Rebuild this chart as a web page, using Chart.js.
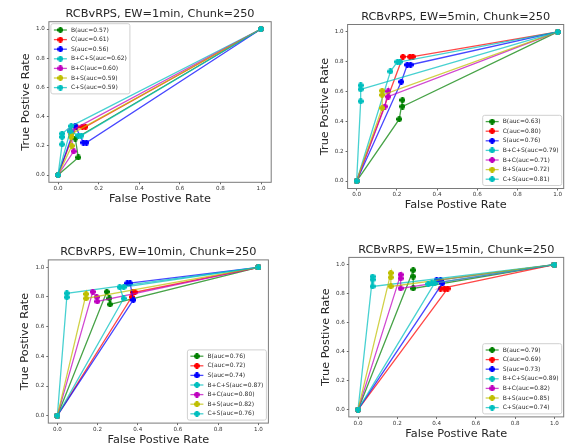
<!DOCTYPE html>
<html>
<head>
<meta charset="utf-8">
<script src="https://cdn.jsdelivr.net/npm/chart.js@4.4.0/dist/chart.umd.min.js"></script>
<style>
html, body { margin: 0; padding: 0; background: #fff; }
body { width: 569px; height: 447px; position: relative; overflow: hidden; }
canvas { position: absolute; }
</style>
</head>
<body>
<canvas id="c1" width="285" height="224" style="left:0;top:0"></canvas>
<canvas id="c2" width="284" height="224" style="left:285px;top:0"></canvas>
<canvas id="c3" width="285" height="223" style="left:0;top:224px"></canvas>
<canvas id="c4" width="284" height="223" style="left:285px;top:224px"></canvas>
<script>
// series names + colours (matplotlib g, r, b, c, m, y, c)
const seriesNames = ['B', 'C', 'S', 'B+C+S', 'B+C', 'B+S', 'C+S'];
const seriesColors = ['#008000', '#ff0000', '#0000ff', '#00bfbf', '#bf00bf', '#bfbf00', '#00bfbf'];
const tickValues = [0.0, 0.2, 0.4, 0.6, 0.8, 1.0];

// EW=1min
const auc1 = [0.57, 0.61, 0.56, 0.62, 0.60, 0.59, 0.59];
const fpr1 = [
  [0, 0.10, 0.085, 1],
  [0, 0.09, 0.12, 0.135, 1],
  [0, 0.085, 0.125, 0.14, 1],
  [0, 0.02, 0.02, 0.02, 0.065, 1],
  [0, 0.077, 0.06, 1],
  [0, 0.068, 0.064, 0.064, 1],
  [0, 0.06, 0.10, 0.115, 1]
];
const tpr1 = [
  [0, 0.12, 0.25, 1],
  [0, 0.33, 0.33, 0.33, 1],
  [0, 0.335, 0.222, 0.222, 1],
  [0, 0.21, 0.26, 0.283, 0.335, 1],
  [0, 0.162, 0.30, 1],
  [0, 0.20, 0.26, 0.28, 1],
  [0, 0.30, 0.27, 0.27, 1]
];

// EW=5min
const auc2 = [0.63, 0.80, 0.76, 0.79, 0.71, 0.72, 0.81];
const fpr2 = [
  [0, 0.212, 0.228, 0.228, 1],
  [0, 0.23, 0.265, 0.28, 1],
  [0, 0.222, 0.252, 0.268, 1],
  [0, 0.168, 0.203, 0.215, 1],
  [0, 0.14, 0.157, 0.157, 1],
  [0, 0.127, 0.127, 0.127, 1],
  [0, 0.02, 0.02, 0.02, 1]
];
const tpr2 = [
  [0, 0.415, 0.543, 0.50, 1],
  [0, 0.834, 0.834, 0.834, 1],
  [0, 0.666, 0.78, 0.78, 1],
  [0, 0.735, 0.80, 0.80, 1],
  [0, 0.50, 0.602, 0.566, 1],
  [0, 0.49, 0.606, 0.577, 1],
  [0, 0.535, 0.642, 0.615, 1]
];

// EW=10min
const auc3 = [0.76, 0.72, 0.74, 0.87, 0.80, 0.82, 0.76];
const fpr3 = [
  [0, 0.246, 0.259, 0.262, 1],
  [0, 0.37, 0.375, 0.386, 1],
  [0, 0.378, 0.362, 0.348, 1],
  [0, 0.047, 0.047, 1],
  [0, 0.176, 0.196, 0.199, 1],
  [0, 0.143, 0.143, 1],
  [0, 0.33, 0.31, 0.33, 1]
];
const tpr3 = [
  [0, 0.835, 0.79, 0.75, 1],
  [0, 0.80, 0.832, 0.832, 1],
  [0, 0.78, 0.892, 0.892, 1],
  [0, 0.798, 0.825, 1],
  [0, 0.835, 0.80, 0.77, 1],
  [0, 0.82, 0.79, 1],
  [0, 0.79, 0.866, 0.866, 1]
];

// EW=15min
const auc4 = [0.79, 0.69, 0.73, 0.89, 0.82, 0.85, 0.74];
const fpr4 = [
  [0, 0.281, 0.281, 0.281, 1],
  [0, 0.456, 0.44, 0.42, 1],
  [0, 0.43, 0.42, 0.40, 1],
  [0, 0.074, 0.074, 0.074, 1],
  [0, 0.217, 0.217, 0.217, 1],
  [0, 0.167, 0.167, 0.167, 1],
  [0, 0.39, 0.375, 0.357, 1]
];
const tpr4 = [
  [0, 0.962, 0.918, 0.836, 1],
  [0, 0.835, 0.835, 0.835, 1],
  [0, 0.872, 0.892, 0.892, 1],
  [0, 0.918, 0.897, 0.85, 1],
  [0, 0.931, 0.905, 0.836, 1],
  [0, 0.943, 0.912, 0.85, 1],
  [0, 0.872, 0.872, 0.866, 1]
];

const panels = [
  { id: 'c1', title: 'RCBvRPS, EW=1min, Chunk=250', fpr: fpr1, tpr: tpr1, auc: auc1, legend: 'ul',
    area: { left: 48.9, top: 21.7, right: 271.2, bottom: 182.3 }, xlim: [-0.045, 1.05] },
  { id: 'c2', title: 'RCBvRPS, EW=5min, Chunk=250', fpr: fpr2, tpr: tpr2, auc: auc2, legend: 'lr',
    area: { left: 62.6, top: 24.5, right: 280, bottom: 188.5 }, xlim: [-0.045, 1.03] },
  { id: 'c3', title: 'RCBvRPS, EW=10min, Chunk=250', fpr: fpr3, tpr: tpr3, auc: auc3, legend: 'lr',
    area: { left: 48.3, top: 35.9, right: 268.4, bottom: 199.1 }, xlim: [-0.045, 1.05] },
  { id: 'c4', title: 'RCBvRPS, EW=15min, Chunk=250', fpr: fpr4, tpr: tpr4, auc: auc4, legend: 'lr',
    area: { left: 63.8, top: 33.4, right: 279.6, bottom: 192.9 }, xlim: [-0.047, 1.047] }
];

const Y_AXIS_W = 20;
const X_AXIS_H = 12;

function rgba(hex, a) {
  const n = parseInt(hex.slice(1), 16);
  return `rgba(${(n >> 16) & 255}, ${(n >> 8) & 255}, ${n & 255}, ${a})`;
}

// filled plus marker, like matplotlib 'P'
function plusMarker(color) {
  const c = document.createElement('canvas');
  c.width = 6; c.height = 6;
  const g = c.getContext('2d');
  g.fillStyle = color;
  g.fillRect(0, 1.6, 6, 2.8);
  g.fillRect(1.6, 0, 2.8, 6);
  g.beginPath();
  g.arc(3, 3, 2.3, 0, Math.PI * 2);
  g.fill();
  return c;
}
const markers = seriesColors.map(plusMarker);

// frame, titles and the in-axes legend
const decorPlugin = {
  id: 'decor',
  afterDatasetsDraw(chart, args, opts) {
    const ctx = chart.ctx;
    const a = chart.chartArea;
    ctx.save();
    ctx.strokeStyle = '#7a7a7a';
    ctx.lineWidth = 1;
    ctx.strokeRect(a.left, a.top, a.right - a.left, a.bottom - a.top);

    // legend
    const fs = 6, rowH = 9.6;
    ctx.font = fs + 'px "DejaVu Sans"';
    const items = chart.data.datasets;
    const tw = Math.max(...items.map(d => ctx.measureText(d.label).width));
    const w = 20 + tw + 3;
    const h = rowH * items.length + 3;
    let x, y;
    if (opts.legend === 'ul') { x = a.left + 2; y = a.top + 2; }
    else { x = a.right - 2 - w; y = a.bottom - 3 - h; }
    ctx.fillStyle = 'rgba(255,255,255,0.8)';
    ctx.strokeStyle = '#d0d0d0';
    ctx.beginPath();
    ctx.roundRect(x, y, w, h, 2);
    ctx.fill();
    ctx.stroke();
    ctx.textAlign = 'left';
    ctx.textBaseline = 'middle';
    items.forEach((d, i) => {
      const cy = y + 1.5 + rowH * (i + 0.5);
      ctx.strokeStyle = d.borderColor;
      ctx.lineWidth = 1.3;
      ctx.beginPath();
      ctx.moveTo(x + 3, cy);
      ctx.lineTo(x + 16, cy);
      ctx.stroke();
      ctx.drawImage(d.pointStyle, x + 9.5 - 3, cy - 3);
      ctx.fillStyle = '#2a2a2a';
      ctx.fillText(d.label, x + 20, cy);
    });

    // titles
    ctx.fillStyle = '#262626';
    ctx.font = '11.3px "DejaVu Sans"';
    ctx.textAlign = 'center';
    ctx.textBaseline = 'middle';
    const mx = (a.left + a.right) / 2;
    ctx.fillText(opts.title, mx, a.top - 7.6);
    ctx.fillText('False Postive Rate', mx, a.bottom + 17);
    ctx.translate(a.left - 23, (a.top + a.bottom) / 2);
    ctx.rotate(-Math.PI / 2);
    ctx.fillText('True Postive Rate', 0, 0);
    ctx.restore();
  }
};

function axis(min, max, isX) {
  return {
    type: 'linear',
    min: min,
    max: max,
    afterBuildTicks: s => { s.ticks = tickValues.map(v => ({ value: v })); },
    afterFit: s => { if (isX) s.height = X_AXIS_H; else s.width = Y_AXIS_W; },
    ticks: {
      font: { family: 'DejaVu Sans', size: 5.6, lineHeight: 1 },
      color: '#333',
      padding: isX ? 1.5 : 2,
      autoSkip: false,
      maxRotation: 0,
      callback: v => v.toFixed(1)
    },
    grid: { drawOnChartArea: false, drawTicks: true, tickLength: 2, color: '#666' },
    border: { display: false }
  };
}

panels.forEach(p => {
  const cv = document.getElementById(p.id);
  const W = cv.width, H = cv.height;
  new Chart(cv, {
    type: 'scatter',
    data: {
      datasets: seriesNames.map((n, i) => ({
        label: `${n}(auc=${p.auc[i].toFixed(2)})`,
        data: p.fpr[i].map((x, j) => ({ x: x, y: p.tpr[i][j] })),
        showLine: true,
        borderColor: rgba(seriesColors[i], 0.72),
        borderWidth: 1.3,
        backgroundColor: seriesColors[i],
        pointStyle: markers[i],
        pointRadius: 3,
        order: seriesNames.length - i
      }))
    },
    options: {
      responsive: false,
      animation: false,
      devicePixelRatio: 1,
      layout: {
        padding: {
          left: p.area.left - Y_AXIS_W,
          top: p.area.top,
          right: W - p.area.right,
          bottom: H - p.area.bottom - X_AXIS_H
        }
      },
      scales: {
        x: axis(p.xlim[0], p.xlim[1], true),
        y: axis(-0.05, 1.05, false)
      },
      plugins: {
        legend: { display: false },
        title: { display: false },
        tooltip: { enabled: false },
        decor: { title: p.title, legend: p.legend }
      }
    },
    plugins: [decorPlugin]
  });
});
</script>
</body>
</html>
